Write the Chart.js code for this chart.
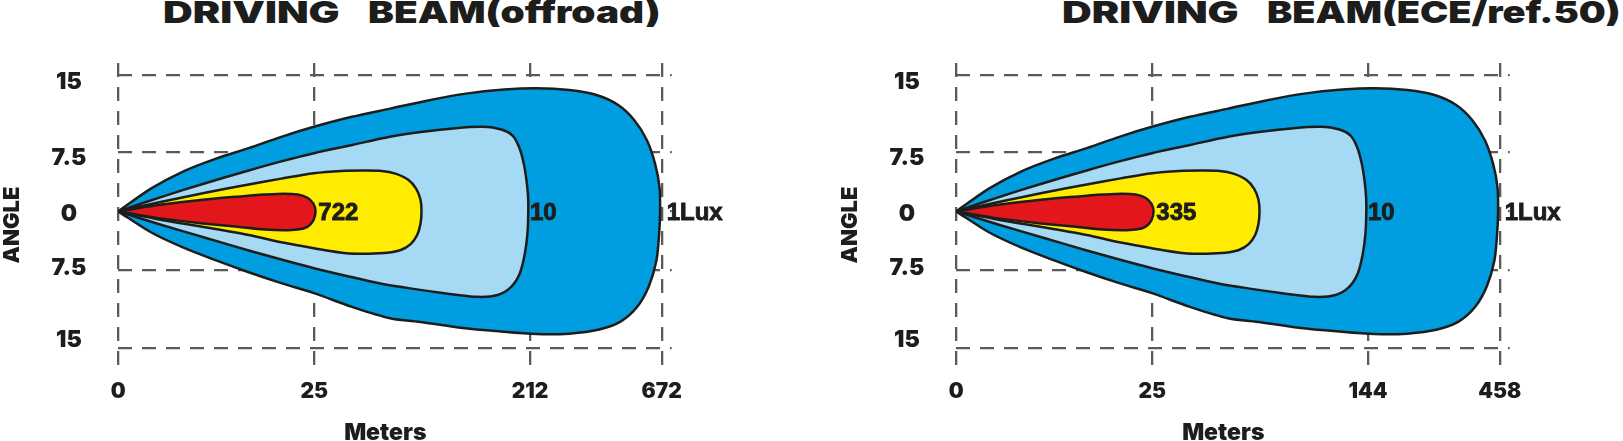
<!DOCTYPE html>
<html>
<head>
<meta charset="utf-8">
<script src="https://cdn.jsdelivr.net/npm/chart.js@4.4.1/dist/chart.umd.min.js"></script>
<style>
  html, body { margin: 0; padding: 0; background: #fff; }
  #page { position: relative; width: 1623px; height: 441px; overflow: hidden; background: #fff; }
  .title {
    position: absolute; top: -3px; white-space: pre;
    font-family: Inter, "DejaVu Sans", sans-serif; font-weight: 900; font-size: 30px;
    line-height: 30px; color: #1d1d1b; transform-origin: 0 0;
  }
  canvas { position: absolute; top: 0; }
</style>
</head>
<body>
<div id="page">
  <div class="title" data-width="177" style="left:163px">DRIVING</div>
  <div class="title" data-width="292" style="left:368px">BEAM(offroad)</div>
  <div class="title" data-width="177" style="left:1062px">DRIVING</div>
  <div class="title" data-width="354" style="left:1267px">BEAM(ECE/ref.50)</div>
  <canvas id="chartLeft" width="760" height="441" style="left:0"></canvas>
  <canvas id="chartRight" width="785" height="441" style="left:838px"></canvas>
</div>
<script>
// distance axis is not to scale: ticks sit at fixed spots of the drawing
const distTickPos = [0, 36.07, 75.76, 100];
const offroadDistLabels = ['0', '25', '212', '672'];
const eceDistLabels = ['0', '25', '144', '458'];

// angle axis, grid lines and their labels
const angleGridPos = [15, 6.55, 0, -6.45, -15];
const angleLabelPos = [14.23, 5.87, -0.35, -6.23, -14.15];
const angleLabels = ['15', '7.5', '0', '7.5', '15'];

const offroadLuxLabels = ['722', '10', '1Lux'];
const eceLuxLabels = ['335', '10', '1Lux'];

// isolux contours, [distance position, angle]
const redZone = [
  [0, 0], [8, 0.75], [16, 1.3], [22, 1.62], [27, 1.85], [30.5, 1.95], [33, 1.85],
  [34.8, 1.5], [35.9, 0.85], [36.3, 0], [35.9, -1.0], [34.8, -1.7], [33, -2.0],
  [30.5, -2.08], [27, -2.0], [22, -1.7], [16, -1.35], [8, -0.8], [0, 0]
];
const yellowZone = [
  [0, 0], [8, 1.05], [16, 2.05], [24, 2.95], [30, 3.6], [36, 4.2], [41, 4.45], [45, 4.5],
  [48.5, 4.45], [51, 4.15], [53.3, 3.5], [54.8, 2.5], [55.6, 1.3], [55.8, 0],
  [55.6, -1.4], [55, -2.6], [53.8, -3.6], [52, -4.25], [49.5, -4.55], [46, -4.65],
  [42, -4.6], [36, -4.05], [30, -3.4], [24, -2.6], [16, -1.75], [8, -0.95], [0, 0]
];
const lightBlueZone = [
  [0, 0], [8, 1.6], [16, 3.1], [24, 4.5], [30, 5.5], [36, 6.4], [43, 7.3], [50, 8.2],
  [56, 8.75], [62, 9.15], [67, 9.3], [70.5, 9.0], [72.6, 8.3], [73.8, 7.0], [74.6, 5.3],
  [75.1, 3.5], [75.4, 1.7], [75.45, 0], [75.3, -2.4], [74.8, -4.7], [73.9, -6.8],
  [72.3, -8.3], [69.8, -9.2], [66, -9.4], [60, -9.0], [54, -8.5], [48, -7.9], [42, -7.1],
  [36, -6.25], [30, -5.3], [24, -4.3], [16, -2.9], [8, -1.5], [0, 0]
];
const blueZone = [
  [0, 0], [6, 2.5], [12, 4.4], [18, 5.8], [24, 6.95], [30, 8.2], [36, 9.3], [43, 10.4],
  [50, 11.3], [57, 12.2], [64, 12.95], [71, 13.4], [77, 13.55], [83, 13.35], [88, 12.8],
  [92, 11.7], [95, 10.0], [97.3, 7.8], [98.8, 5.2], [99.6, 2.6], [99.7, 0],
  [99.5, -2.7], [99, -5.5], [97.6, -8.3], [95.5, -10.5], [92.5, -12.1], [88.5, -13.0],
  [83, -13.45], [77, -13.5], [70, -13.2], [63, -12.8], [56, -12.2], [50, -11.75],
  [43, -10.5], [36, -9.0], [30, -7.9], [24, -6.7], [18, -5.4], [12, -4.0], [6, -2.3], [0, 0]
];

const zones = [redZone, yellowZone, lightBlueZone, blueZone];
const zoneColors = ['#e3161b', '#ffec00', '#a6d9f4', '#009ee0'];

const ink = '#1d1d1b';
const gridColor = '#5a5a5a';
const heavy = 'Inter, "DejaVu Sans", sans-serif';

// plot area in canvas pixels
const plotLeft = 118.3;
const plotRight = 671.7;
const plotTop = 63;
const plotBottom = 367;

// stretch the title words to the drawing's widths
document.querySelectorAll('.title').forEach(el => {
  el.style.transform = 'scaleX(' + (el.dataset.width / el.offsetWidth) + ')';
});

const beamText = {
  id: 'beamText',
  afterDraw(chart, args, opts) {
    const { ctx, scales } = chart;
    const shift = [4, 0, 5];
    ctx.save();
    ctx.font = 'bold 24px "Liberation Sans", Arial, sans-serif';
    ctx.fillStyle = ink;
    ctx.strokeStyle = ink;
    ctx.lineWidth = 0.9;
    ctx.textBaseline = 'middle';
    ctx.textAlign = 'left';
    const y = scales.y.getPixelForValue(0) + 2;
    opts.labels.forEach((t, i) => {
      const x = scales.x.getPixelForValue(distTickPos[i + 1]) + shift[i];
      ctx.fillText(t, x, y);
      ctx.strokeText(t, x, y);
    });
    // axis names
    ctx.textAlign = 'center';
    ctx.font = '900 23px ' + heavy;
    ctx.fillText('Meters', plotLeft + 267, 433);
    ctx.font = '900 22px ' + heavy;
    ctx.translate(12, 225);
    ctx.rotate(-Math.PI / 2);
    ctx.fillText('ANGLE', 0, 0);
    ctx.restore();
  }
};

function makeChart(id, distLabels, luxLabels) {
  const canvas = document.getElementById(id);
  return new Chart(canvas, {
    type: 'line',
    data: {
      datasets: zones.map((z, i) => ({
        data: z.map(p => ({ x: p[0], y: p[1] })),
        xAxisID: 'x',
        yAxisID: 'y',
        backgroundColor: zoneColors[i],
        borderColor: ink,
        borderWidth: 2.5,
        borderJoinStyle: 'round',
        fill: 'shape',
        tension: 0.3,
        pointRadius: 0,
      })),
    },
    options: {
      responsive: false,
      animation: false,
      layout: { padding: { top: plotTop, bottom: 0, left: 0, right: canvas.width - plotRight } },
      plugins: {
        legend: { display: false },
        tooltip: { enabled: false },
        beamText: { labels: luxLabels },
      },
      scales: {
        x: {
          type: 'linear',
          min: 0,
          max: 101.84,
          z: 1,
          afterBuildTicks: s => { s.ticks = distTickPos.map(v => ({ value: v })); },
          afterFit: s => { s.height = 441 - plotBottom; },
          grid: { color: gridColor, lineWidth: 2.3, drawTicks: false },
          border: { display: false, dash: [14, 10] },
          ticks: {
            autoSkip: false,
            maxRotation: 0,
            padding: 12,
            color: ink,
            font: { family: heavy, size: 21, weight: 900 },
            callback: (v, i) => distLabels[i],
          },
        },
        y: {
          type: 'linear',
          min: -17.12,
          max: 16.32,
          z: 1,
          weight: 0,
          afterBuildTicks: s => { s.ticks = angleGridPos.map(v => ({ value: v })); },
          afterFit: s => { s.width = 0; },
          grid: { color: gridColor, lineWidth: 2.3, drawTicks: false },
          border: { display: false, dash: [14, 10] },
          ticks: { display: false },
        },
        yl: {
          type: 'linear',
          position: 'left',
          min: -17.12,
          max: 16.32,
          weight: 1,
          afterBuildTicks: s => { s.ticks = angleLabelPos.map(v => ({ value: v })); },
          afterFit: s => { s.width = plotLeft; },
          grid: { display: false },
          border: { display: false },
          ticks: {
            autoSkip: false,
            crossAlign: 'center',
            padding: 24,
            color: ink,
            font: { family: heavy, size: 23, weight: 900 },
            callback: (v, i) => angleLabels[i],
          },
        },
      },
    },
    plugins: [beamText],
  });
}

makeChart('chartLeft', offroadDistLabels, offroadLuxLabels);
makeChart('chartRight', eceDistLabels, eceLuxLabels);
</script>
</body>
</html>
